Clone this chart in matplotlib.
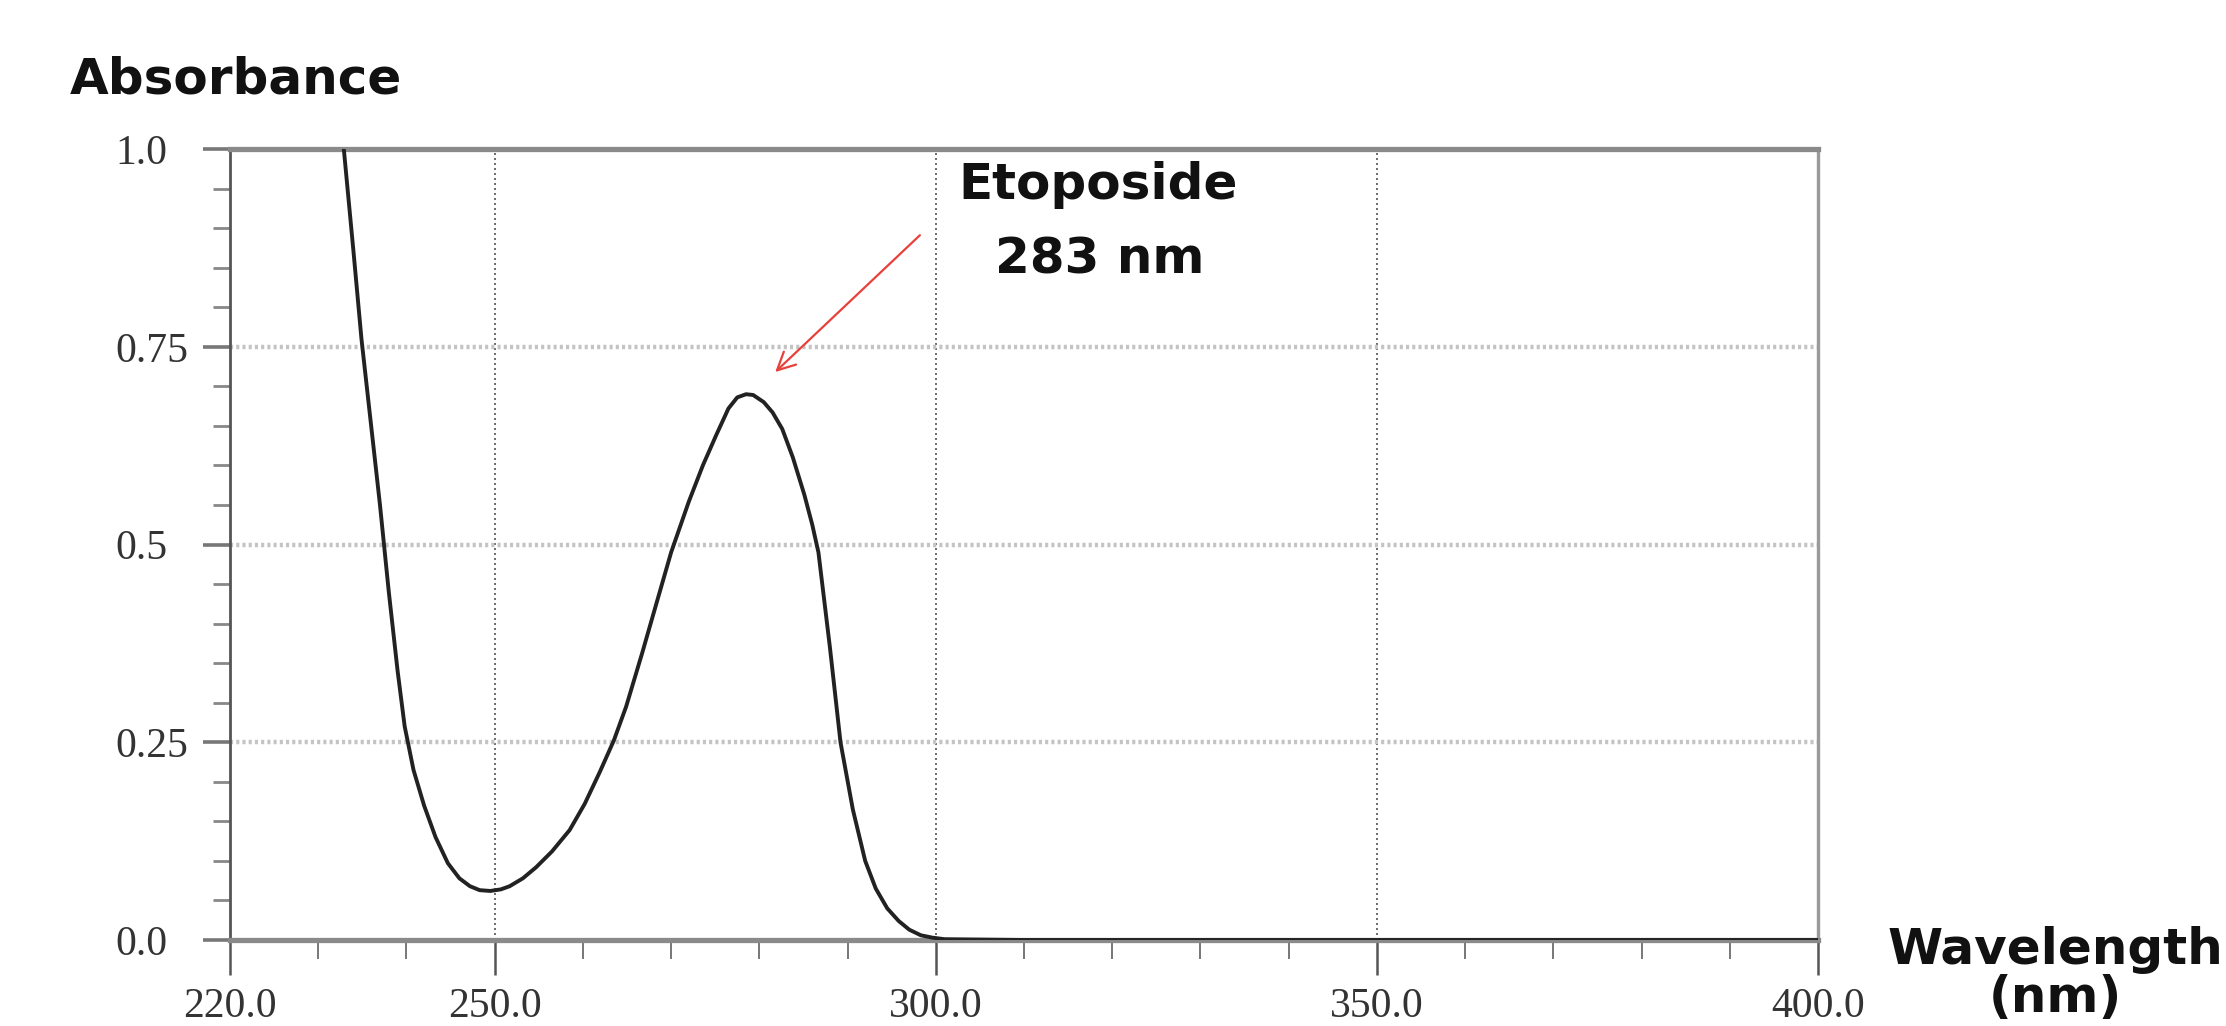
#! /usr/bin/env python
# -*- coding: utf-8 -*
import matplotlib
matplotlib.use('Agg')
import matplotlib.pyplot as plt
from matplotlib.ticker import MultipleLocator, FixedLocator

# UV spectrum of etoposide
wavelength = [231.8, 232.9, 234.0, 234.9, 236.0, 237.0, 238.0, 239.0, 239.8, 240.8,
              242.0, 243.3, 244.7, 246.0, 247.2, 248.3, 249.5, 250.7, 251.7, 253.2,
              254.7, 256.5, 258.5, 260.2, 261.9, 263.5, 264.9, 266.7, 268.4, 270.0,
              272.0, 273.6, 275.1, 276.5, 277.5, 278.5, 279.3, 280.5, 281.5, 282.6,
              283.8, 285.1, 286.0, 286.7, 288.0, 289.2, 290.6, 292.0, 293.2, 294.5,
              295.8, 297.0, 298.3, 299.6, 301.0, 310.0, 320.0, 330.0, 340.0, 350.0,
              360.0, 370.0, 380.0, 390.0, 400.0]
absorbance = [1.10, 1.00, 0.87, 0.76, 0.65, 0.55, 0.44, 0.34, 0.27, 0.215,
              0.17, 0.13, 0.097, 0.078, 0.068, 0.063, 0.062, 0.064, 0.068, 0.078,
              0.092, 0.112, 0.139, 0.172, 0.212, 0.252, 0.295, 0.362, 0.428, 0.49,
              0.554, 0.60, 0.638, 0.672, 0.686, 0.69, 0.689, 0.680, 0.667, 0.646,
              0.61, 0.563, 0.525, 0.49, 0.37, 0.25, 0.165, 0.10, 0.065, 0.040,
              0.024, 0.013, 0.006, 0.003, 0.001, 0.0, 0.0, 0.0, 0.0, 0.0,
              0.0, 0.0, 0.0, 0.0, 0.0]

x_ticks = [220, 250, 300, 350, 400]
x_tick_labels = ['220.0', '250.0', '300.0', '350.0', '400.0']
y_ticks = [0.0, 0.25, 0.5, 0.75, 1.0]
y_tick_labels = ['0.0', '0.25', '0.5', '0.75', '1.0']

peak_label = 'Etoposide'
peak_nm = '283 nm'
peak_xy = (281.8, 0.718)
arrow_from = (298.2, 0.891)

W, H = 2226, 1026
fig = plt.figure(figsize=(W / 100, H / 100), dpi=100)
ax = fig.add_axes([230 / W, 1 - 940 / H, (1818 - 230) / W, (940 - 149) / H])

ax.plot(wavelength, absorbance, color='#222222', lw=2.8, zorder=3)
ax.set_xlim(220, 400)
ax.set_ylim(0, 1.0)

# grid: dark dotted verticals, light dotted horizontals
for gx in [250, 300, 350]:
    ax.axvline(gx, color='#555555', lw=1.2, ls=(0, (1.2, 1.8)), zorder=1)
for gy in [0.25, 0.5, 0.75]:
    ax.axhline(gy, color='#c4c4c4', lw=3.2, ls=(0, (0.7, 0.7)), zorder=1)

ax.spines['top'].set_color('#8a8a8a')
ax.spines['top'].set_linewidth(3.8)
ax.spines['bottom'].set_color('#8a8a8a')
ax.spines['bottom'].set_linewidth(3.8)
ax.spines['right'].set_color('#9a9a9a')
ax.spines['right'].set_linewidth(2.4)
ax.spines['left'].set_color('#555555')
ax.spines['left'].set_linewidth(2.0)

ax.xaxis.set_major_locator(FixedLocator(x_ticks))
ax.xaxis.set_minor_locator(MultipleLocator(10))
ax.yaxis.set_major_locator(FixedLocator(y_ticks))
ax.yaxis.set_minor_locator(MultipleLocator(0.05))
ax.set_xticklabels(x_tick_labels)
ax.set_yticklabels(y_tick_labels)

ax.tick_params(axis='x', which='major', direction='out', length=25, width=1.8,
               color='#555555', pad=9, labelsize=30, labelcolor='#333333')
ax.tick_params(axis='x', which='minor', direction='out', length=14, width=1.4,
               color='#777777')
ax.tick_params(axis='y', which='major', direction='out', length=19.5, width=2.6,
               color='#777777', pad=63, labelsize=30, labelcolor='#333333')
ax.tick_params(axis='y', which='minor', direction='out', length=12, width=2.0,
               color='#888888')
for lab in ax.get_xticklabels() + ax.get_yticklabels():
    lab.set_family('Liberation Serif')
for lab in ax.get_yticklabels():
    lab.set_ha('left')
    lab.set_va('center_baseline')

ax.annotate('', xy=peak_xy, xytext=arrow_from,
            arrowprops=dict(arrowstyle='->', color='#e8413c', lw=1.6,
                            mutation_scale=32, shrinkA=0, shrinkB=0))

bold = dict(family='DejaVu Sans', weight='bold', size=36, color='#111111')
fig.text(70 / W, 1 - 93 / H, 'Absorbance', ha='left', va='baseline', **bold)
fig.text(1098 / W, 1 - 199 / H, peak_label, ha='center', va='baseline', **bold)
fig.text(1100 / W, 1 - 274 / H, peak_nm, ha='center', va='baseline', **bold)
fig.text(2055 / W, 1 - 964 / H, 'Wavelength', ha='center', va='baseline', **bold)
fig.text(2055 / W, 1 - 1012 / H, '(nm)', ha='center', va='baseline', **bold)

fig.savefig('out.png', dpi=100)
